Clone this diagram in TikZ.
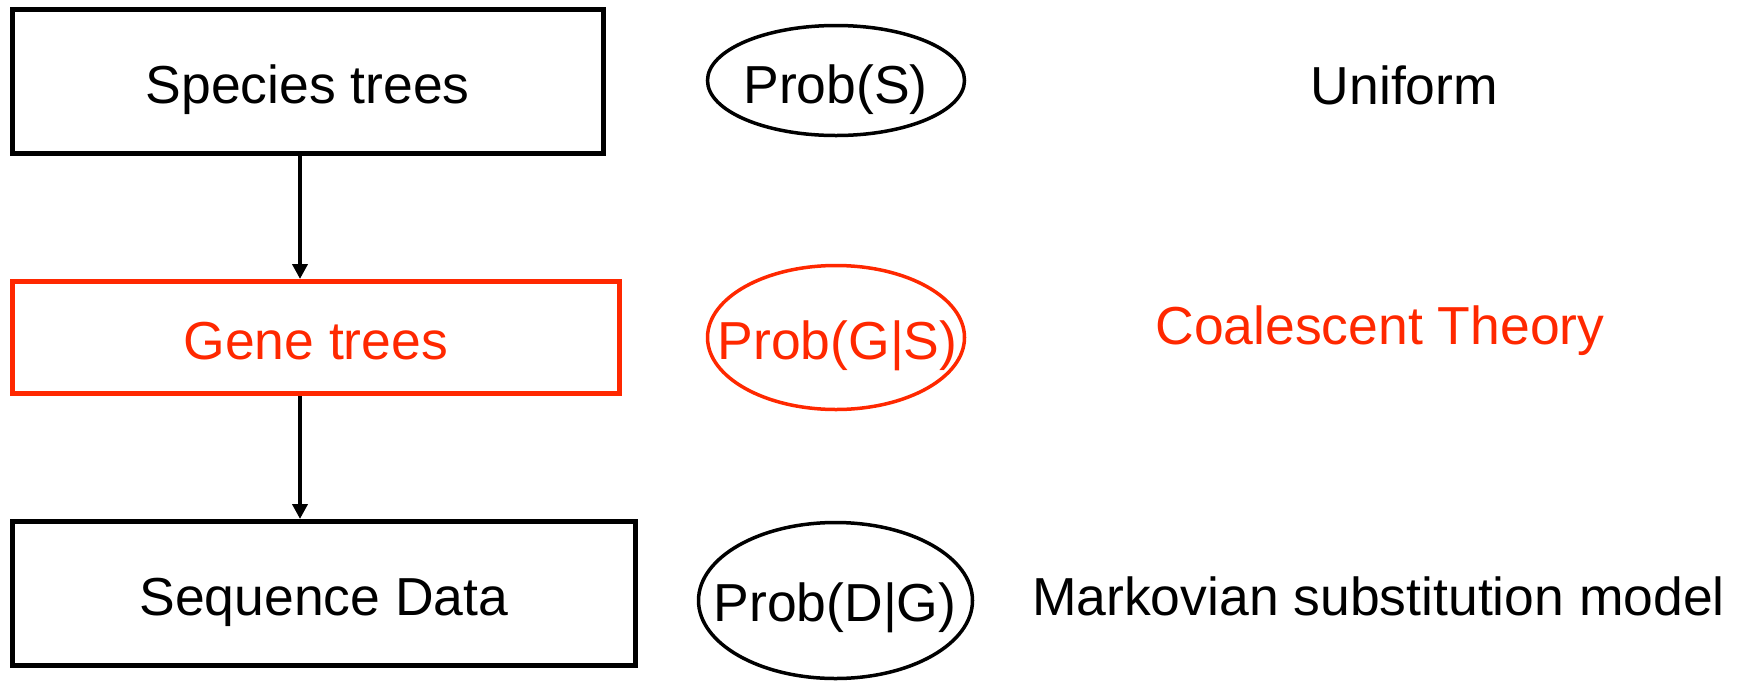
\documentclass[tikz,border=0pt]{standalone}
\usepackage{fontspec}
\setmainfont{Liberation Sans}
\usetikzlibrary{shapes.geometric,arrows.meta}
\definecolor{hired}{RGB}{255,40,0}
\tikzset{
  bigfont/.style={font=\fontsize{53.5}{64}\selectfont},
  stagebox/.style={draw, line width=5pt, rectangle, inner sep=0pt, bigfont,
    text height=44pt, text depth=0pt},
  probell/.style={draw, ellipse, line width=3.5pt, inner sep=0pt},
  lbl/.style={bigfont, anchor=base, inner sep=0pt},
  arr/.style={line width=4pt, -{Triangle[length=15pt,width=15pt]}}
}
\begin{document}
\begin{tikzpicture}[x=1pt,y=-1pt]
\useasboundingbox (0,0) rectangle (1741,681);
% boxes
\node[stagebox, minimum width=591.5pt, minimum height=144pt] (b1) at (307.75,81.5) {Species trees};
\node[stagebox, draw=hired, text=hired, minimum width=607.5pt, minimum height=112pt] (b2) at (315.75,337.5) {Gene trees};
\node[stagebox, minimum width=623.5pt, minimum height=144pt] (b3) at (323.75,593.5) {Sequence Data};
% arrows
\coordinate (ax) at (300,0);
\draw[arr] (b1.south -| ax) -- (b2.north -| ax);
\draw[arr] (b2.south -| ax) -- (b3.north -| ax);
% ellipses
\node[probell, minimum width=257pt, minimum height=110pt] (e1) at (836,80.5) {};
\node[probell, draw=hired, minimum width=257pt, minimum height=144pt] (e2) at (836,337.5) {};
\node[probell, minimum width=274pt, minimum height=156pt] (e3) at (835.5,600.5) {};
\node[lbl] (p1) at (835.5,103) {Prob(S)};
\node[lbl, text=hired] (p2) at (837.5,359) {Prob(G|S)};
\node[lbl] (p3) at (835,621) {Prob(D|G)};
% right labels
\node[lbl] (r1) at (1404.5,104) {Uniform};
\node[lbl, text=hired] (r2) at (1380,344) {Coalescent Theory};
\node[lbl] (r3) at (1378.5,615) {Markovian substitution model};
\end{tikzpicture}
\end{document}
